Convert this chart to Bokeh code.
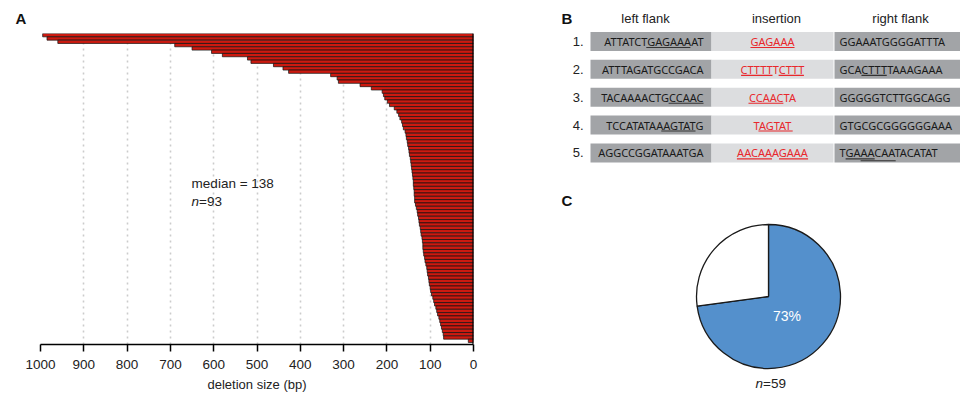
from bokeh.plotting import figure
from bokeh.layouts import row
from bokeh.models import Range1d, Label, FixedTicker, Span
from bokeh.core.properties import value
from bokeh.embed import file_html
from bokeh.resources import INLINE
import math

# ---------------- data ----------------
deletion_sizes = [995, 985, 960, 690, 650, 605, 580, 522, 514, 462, 440, 427, 330, 315, 312,
                  262, 236, 211, 208, 205, 199, 194, 183, 177, 173, 170, 166, 164, 162, 158,
                  156, 155, 153, 152, 150, 149, 148, 146, 145, 144, 143, 142, 141, 140, 139,
                  139, 138, 137, 137, 136, 136, 134, 132, 130, 129, 127, 126, 125, 123, 122,
                  121, 119, 118, 117, 117, 116, 115, 113, 112, 110, 108, 107, 106, 104, 103,
                  102, 100, 99, 97, 94, 92, 90, 87, 85, 83, 80, 78, 76, 74, 72, 70, 69, 12]
x_ticks = [0, 100, 200, 300, 400, 500, 600, 700, 800, 900, 1000]
x_label = "deletion size (bp)"
median_text = "median = 138"
n_del = "93"

headers = ["left flank", "insertion", "right flank"]
row_labels = ["1.", "2.", "3.", "4.", "5."]
left_flanks = ["ATTATCTGAGAAAAT", "ATTTAGATGCCGACA", "TACAAAACTGCCAAC", "TCCATATAAAGTATG", "AGGCCGGATAAATGA"]
insertions = ["GAGAAA", "CTTTTTCTTT", "CCAACTA", "TAGTAT", "AACAAAGAAA"]
right_flanks = ["GGAAATGGGGATTTA", "GCACTTTTAAAGAAA", "GGGGGTCTTGGCAGG", "GTGCGCGGGGGGAAA", "TGAAACAATACATAT"]
# underlined character spans (first, last, level)
left_ul = [[(7, 12, 0)], [], [(10, 14, 0)], [(9, 13, 0)], []]
ins_ul = [[(0, 5, 0)], [(0, 4, 0), (6, 9, 0)], [(0, 4, 0)], [(1, 5, 0)], [(0, 4, 0), (6, 9, 0)]]
right_ul = [[], [(3, 6, 0)], [], [], [(1, 4, 0), (3, 7, 1)]]

pie_counts = [43, 16]
pie_colors = ["#5490cc", "#ffffff"]
n_pie = "59"

SANS = "Liberation Sans"
SEQ = "Noto Sans"
SEQ_SIZE = 11
CW = {"A": 0.639, "C": 0.632, "G": 0.725, "T": 0.556}


def sw(s):
    return sum(CW[c] for c in s) * SEQ_SIZE


# ---------------- panel A ----------------
pa = figure(width=490, height=399, x_range=Range1d(1000, 0), y_range=Range1d(-0.6, 93.0),
            output_backend="svg", toolbar_location=None,
            min_border_left=40, min_border_right=17, min_border_top=33, min_border_bottom=55,
            y_axis_location=None)
pa.outline_line_color = None
pa.ygrid.visible = False
pa.xgrid.ticker = FixedTicker(ticks=x_ticks)
pa.xgrid.grid_line_color = "#cccccc"
pa.xgrid.grid_line_dash = "2 4"
pa.xgrid.grid_line_width = 1.6

pa.title.text = "A"
pa.title.align = "left"
pa.title.offset = -25
pa.title.standoff = 13
pa.title.text_font = SANS
pa.title.text_font_size = "15px"
pa.title.text_font_style = "bold"
pa.title.text_color = "#111111"

nb = len(deletion_sizes)
ys = [nb - 0.5 - k for k in range(nb)]
pa.hbar(y=ys, left=0, right=deletion_sizes, height=1.0,
        fill_color="#cc1a10", line_color="#111111", line_width=0.7)
pa.add_layout(Span(location=0, dimension="height", line_color="black", line_width=2.2))

ax = pa.xaxis[0]
ax.ticker = FixedTicker(ticks=x_ticks)
ax.axis_line_width = 1.5
ax.axis_line_color = "black"
ax.major_tick_out = 7
ax.major_tick_in = 0
ax.major_tick_line_width = 1.5
ax.minor_tick_out = 0
ax.minor_tick_in = 0
ax.major_label_text_font = SANS
ax.major_label_text_font_size = "13.5px"
ax.major_label_text_color = "#222222"
ax.major_label_standoff = 8
ax.axis_label = x_label
ax.axis_label_text_font = SANS
ax.axis_label_text_font_size = "13px"
ax.axis_label_text_font_style = "normal"
ax.axis_label_text_color = "#222222"
ax.axis_label_standoff = 5

pa.add_layout(Label(x=651, y=47.8, text=median_text, text_font=SANS, text_font_size="13.5px",
                    text_align="left", text_baseline="middle", text_color="#222222"))
pa.add_layout(Label(x=651, y=42.4, text="n", text_font=SANS, text_font_size="13.5px",
                    text_font_style="italic", text_align="left", text_baseline="middle",
                    text_color="#222222"))
pa.add_layout(Label(x=651, y=42.4, x_offset=7.5, text="=" + n_del, text_font=SANS,
                    text_font_size="13.5px", text_align="left", text_baseline="middle",
                    text_color="#222222"))

# ---------------- panels B & C ----------------
pb = figure(width=470, height=399, x_range=Range1d(490, 960), y_range=Range1d(-399, 0),
            output_backend="svg", toolbar_location=None, min_border=0,
            x_axis_location=None, y_axis_location=None)
pb.frame_align = False
pb.outline_line_color = None
pb.xgrid.visible = False
pb.ygrid.visible = False

ROW0, STEP, BOX_H = 41, 27.85, 19
centers = [ROW0 + STEP * i for i in range(len(row_labels))]
cols = [(590, 711, "#a2a4a7"), (711, 833, "#dcdddf"), (834, 962, "#a2a4a7")]
for (l, r, c) in cols:
    pb.quad(left=[l] * len(centers), right=[r] * len(centers),
            top=[-(cy - BOX_H / 2) for cy in centers],
            bottom=[-(cy + BOX_H / 2) for cy in centers],
            fill_color=c, line_color=None)

pb.text(x=[645, 776, 900], y=[-18] * 3, text=headers, text_font=value(SANS),
        text_font_size=value("13px"), text_align="center", text_baseline="middle",
        text_color="#222222")
pb.text(x=[583] * len(centers), y=[-cy for cy in centers], text=row_labels, text_font=value(SANS),
        text_font_size=value("13px"), text_align="right", text_baseline="middle",
        text_color="#222222")

LEFT_R, INS_C, RIGHT_L = 703, 772, 839
pb.text(x=[LEFT_R] * 5, y=[-cy for cy in centers], text=left_flanks, text_font=value(SEQ),
        text_font_size=value(f"{SEQ_SIZE}px"), text_align="right", text_baseline="middle",
        text_color="#1a1a1a")
pb.text(x=[INS_C] * 5, y=[-cy for cy in centers], text=insertions, text_font=value(SEQ),
        text_font_size=value(f"{SEQ_SIZE}px"), text_align="center", text_baseline="middle",
        text_color="#e8282c")
pb.text(x=[RIGHT_L] * 5, y=[-cy for cy in centers], text=right_flanks, text_font=value(SEQ),
        text_font_size=value(f"{SEQ_SIZE}px"), text_align="left", text_baseline="middle",
        text_color="#1a1a1a")

ux0, ux1, uy, ucol = [], [], [], []
for i, cy in enumerate(centers):
    groups = [
        (left_flanks[i], LEFT_R - sw(left_flanks[i]), left_ul[i], "#333333"),
        (insertions[i], INS_C - sw(insertions[i]) / 2, ins_ul[i], "#e8282c"),
        (right_flanks[i], RIGHT_L, right_ul[i], "#333333"),
    ]
    for s, x0, spans, col in groups:
        for (a, b, lev) in spans:
            ux0.append(x0 + sw(s[:a]))
            ux1.append(x0 + sw(s[:b + 1]))
            uy.append(-(cy + 6 + 1.8 * lev))
            ucol.append(col)
pb.segment(x0=ux0, x1=ux1, y0=uy, y1=uy, line_color=ucol, line_width=1.1)

pb.text(x=[561, 561], y=[-18, -200], text=["B", "C"], text_font=value(SANS),
        text_font_size=value("15px"), text_font_style="bold", text_align="left",
        text_baseline="middle", text_color="#111111")

# pie
PCX, PCY, PR = 768, -296, 72
tot = sum(pie_counts)
starts, ends = [], []
a = math.pi / 2
for c in pie_counts:
    starts.append(a)
    a = a - 2 * math.pi * c / tot
    ends.append(a)
pb.wedge(x=[PCX] * len(pie_counts), y=[PCY] * len(pie_counts), radius=PR,
         start_angle=starts, end_angle=ends, direction="clock",
         fill_color=pie_colors, line_color="#1a1a1a", line_width=1.3)
frac = pie_counts[0] / tot
mid = math.pi / 2 - math.pi * frac
pb.text(x=[PCX + 0.34 * PR * math.cos(mid)], y=[PCY + 0.34 * PR * math.sin(mid) - 3],
        text=[f"{round(100 * frac)}%"], text_font=value(SANS), text_font_size=value("14px"),
        text_align="center", text_baseline="middle", text_color="white")
pb.text(x=[755], y=[-383], text=["n"], text_font=value(SANS), text_font_size=value("13.5px"),
        text_font_style="italic", text_align="left", text_baseline="middle", text_color="#222222")
pb.text(x=[762.5], y=[-383], text=["=" + n_pie], text_font=value(SANS),
        text_font_size=value("13.5px"), text_align="left", text_baseline="middle",
        text_color="#222222")

layout = row(pa, pb, spacing=0)
open("out.html", "w").write(file_html(layout, INLINE))
